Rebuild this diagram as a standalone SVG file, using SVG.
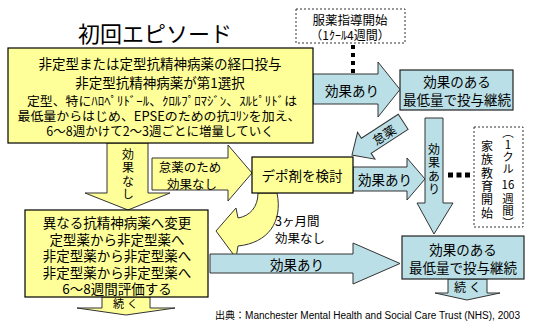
<svg xmlns="http://www.w3.org/2000/svg" width="537" height="324" viewBox="0 0 537 324">
<style>
.yb{fill:#FFFF99;stroke:#000;stroke-width:1.2}
.ya{fill:#FFFF99;stroke:#333;stroke-width:1}
.bb{fill:#BADFE6;stroke:#222;stroke-width:1.2}
.ba{fill:#BADFE6;stroke:#333;stroke-width:1}
.dash{fill:#fff;stroke:#333;stroke-width:1;stroke-dasharray:2 2}
.t{font-family:"Noto Sans CJK JP","Noto Sans",sans-serif;fill:#000;text-anchor:middle;dominant-baseline:central}
.s13{font-size:13px}
.s135{font-size:13.5px}
.s12{font-size:12.5px}
.vt{font-family:"Noto Sans CJK JP","Noto Sans",sans-serif;fill:#000;text-anchor:middle;writing-mode:vertical-rl;text-orientation:upright;font-size:12px;letter-spacing:1.3px}
</style>
<rect width="537" height="324" fill="#fff"/>

<text class="t" x="155" y="32" style="font-size:22px">初回エピソード</text>

<g id="connectors">
  <path class="ba" d="M313,74 H378 V62 L400,89.5 L378,117 V104 H313 Z"/>
  <text class="t s135" x="352" y="90">効果あり</text>
  <line x1="353" y1="45" x2="353" y2="74" stroke="#000" stroke-width="4" stroke-dasharray="4 4"/>
  <path class="ya" d="M107,143 H148 V193 H170 L128,210 L85,193 H107 Z"/>
  <text class="vt" x="128" y="175">効果なし</text>
  <path class="ya" d="M152,158 H228 V145 L252,173 L228,201 V190 H152 Z"/>
  <text class="t" x="190" y="166.5" style="font-size:12.5px">怠薬のため</text>
  <text class="t" x="192" y="183.5" style="font-size:12.5px">効果なし</text>
  <g transform="translate(352,155) rotate(-33)">
    <path class="ba" d="M0,0 L17,-16 V-9 H61 V9 H17 V16 Z"/>
    <text class="t" x="38" y="0" style="font-size:12.5px">怠薬</text>
  </g>
  <path class="ba" d="M353,167 H407 V158 L425,179 L407,200 V191 H353 Z"/>
  <text class="t s135" x="385" y="179">効果あり</text>
  <path class="ba" d="M425,118 H443 V203 H453 L434,234 L417,203 H425 Z"/>
  <text class="vt" x="434" y="170">効果あり</text>
  <line x1="448" y1="175" x2="471" y2="175" stroke="#000" stroke-width="5" stroke-dasharray="5 3.5"/>
  <path class="ya" d="M258,193 L277,193 C283,222 268,243 238,246 L236,258 L216,231 L236,208 L238,218 C250,216 258,207 258,193 Z"/>
  <text class="t s12" x="275" y="220" style="text-anchor:start">3ヶ月間</text>
  <text class="t s12" x="275" y="237" style="text-anchor:start">効果なし</text>
  <path class="ba" d="M210,254 H353 V243 L400,263.5 L353,284 V273 H210 Z"/>
  <text class="t s135" x="297" y="263.5">効果あり</text>
  <path class="ya" d="M102,297 H150 V308 H175 L126,315 L77,308 H102 Z"/>
  <text class="t" x="127" y="303" style="font-size:11px;letter-spacing:3px">続く</text>
  <path class="ba" d="M448,279 H487 V293 H500 L467,300 L435,293 H448 Z"/>
  <text class="t" x="469" y="286" style="font-size:12px;letter-spacing:3px">続く</text>
</g>

<g id="main-box">
  <rect class="yb" x="8" y="48" width="305" height="95"/>
  <text class="t s135" x="160" y="63">非定型または定型抗精神病薬の経口投与</text>
  <text class="t s135" x="160" y="82">非定型抗精神病薬が第1選択</text>
  <text class="t" x="162" y="100" style="font-size:12.5px" textLength="270" lengthAdjust="spacingAndGlyphs">定型、特にﾊﾛﾍﾟﾘﾄﾞｰﾙ、ｸﾛﾙﾌﾟﾛﾏｼﾞﾝ、ｽﾙﾋﾟﾘﾄﾞは</text>
  <text class="t" x="159" y="115" style="font-size:12.5px" textLength="283" lengthAdjust="spacingAndGlyphs">最低量からはじめ、EPSEのための抗ｺﾘﾝを加え、</text>
  <text class="t" x="160" y="130" style="font-size:12.5px">6〜8週かけて2〜3週ごとに増量していく</text>
</g>

<g id="medication-guidance">
  <rect class="dash" x="296" y="9" width="109" height="34"/>
  <text class="t s12" x="350" y="19.5">服薬指導開始</text>
  <text class="t" x="350" y="34.5" style="font-size:12px">（1ｸｰﾙ4週間）</text>
</g>

<g id="effective-top">
  <rect class="bb" x="400" y="70" width="113" height="40"/>
  <text class="t s135" x="457" y="81">効果のある</text>
  <text class="t s135" x="457" y="99">最低量で投与継続</text>
</g>

<g id="depot">
  <rect class="yb" x="252" y="157" width="101" height="36"/>
  <text class="t s135" x="302" y="175">デポ剤を検討</text>
</g>

<g id="family-education">
  <rect class="dash" x="474" y="127" width="49" height="100"/>
  <text class="vt" x="487" y="180.5">家族教育開始</text>
  <text class="vt" x="508" y="151" style="font-size:11.5px;letter-spacing:0.5px">（1クル</text>
  <text class="t" x="508" y="184" style="font-size:11.5px">16</text>
  <text class="vt" x="508" y="211" style="font-size:11.5px;letter-spacing:0.5px">週間）</text>
</g>

<g id="change-drug">
  <rect class="yb" x="25" y="210" width="183" height="87"/>
  <text class="t s135" x="117" y="222">異なる抗精神病薬へ変更</text>
  <text class="t s135" x="117" y="238.5">定型薬から非定型薬へ</text>
  <text class="t s135" x="117" y="255">非定型薬から非定型薬へ</text>
  <text class="t s135" x="117" y="271.5">非定型薬から非定型薬へ</text>
  <text class="t s135" x="117" y="288">6〜8週間評価する</text>
</g>

<g id="effective-bottom">
  <rect class="bb" x="402" y="236" width="122" height="43"/>
  <text class="t s135" x="463" y="249">効果のある</text>
  <text class="t s135" x="463" y="267">最低量で投与継続</text>
</g>

<text x="215" y="319" textLength="305" lengthAdjust="spacingAndGlyphs" style="font-family:'Liberation Sans','Noto Sans CJK JP',sans-serif;font-size:10px;fill:#000">出典：Manchester Mental Health and Social Care Trust (NHS), 2003</text>
</svg>
